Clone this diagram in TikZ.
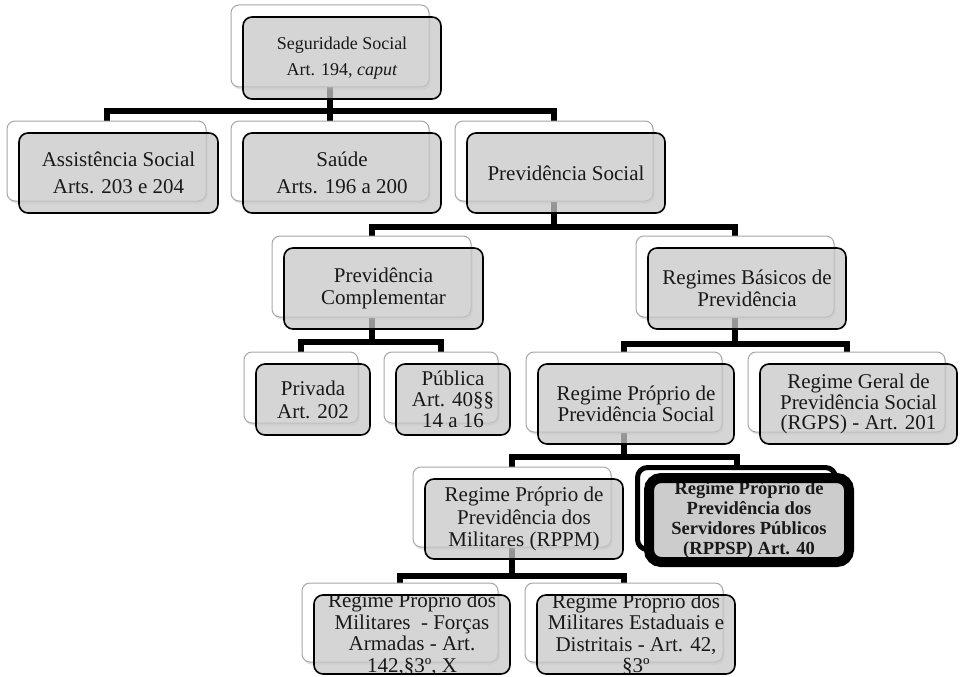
\documentclass[tikz,border=0pt]{standalone}
\usepackage{fontspec}
\setmainfont{Liberation Serif}
\usetikzlibrary{shadows,backgrounds,calc}
\tikzset{
  backbox/.style={draw=black!35, fill=white, line width=1pt, rounded corners=8pt, inner sep=0pt,
    drop shadow={shadow xshift=1.5pt, shadow yshift=-2.5pt, opacity=0.22}},
  frontbox/.style={draw=black, fill=black!22, fill opacity=0.75, line width=1.6pt, rounded corners=9pt, inner sep=0pt},
  boxtext/.style={align=center, text=black!90, text opacity=1, fill opacity=1, inner sep=0pt},
  conn/.style={line width=6pt, black},
  bigback/.style={draw=black, line width=5pt, fill=white, rounded corners=10pt, inner sep=0pt},
  bigfront/.style={draw=black, line width=10pt, fill=black!20, rounded corners=12pt, inner sep=0pt}
}
\newcommand{\boxpair}[7]{%
  \node[backbox, minimum width=#4pt, minimum height=#5pt] (#1) at (#2,#3) {};
  \node[frontbox, minimum width=#4pt, minimum height=#5pt,
    path picture={\node[boxtext, font=#6] at (path picture bounding box.center) {#7};}]
    (#1f) at ([shift={(12,12)}]#1.center) {};
}
\begin{document}
\begin{tikzpicture}[x=1pt,y=-1pt]
\useasboundingbox (0,0) rectangle (964,677);
\boxpair{ss}{330}{46}{198}{82}{\fontsize{18}{26}\selectfont}{Seguridade Social\\Art. 194, \textit{caput}}
\boxpair{as}{106.5}{161}{199}{80}{\fontsize{21}{27}\selectfont}{Assistência Social\\Arts. 203 e 204}
\boxpair{sa}{330}{161}{198}{80}{\fontsize{21}{27}\selectfont}{Saúde\\Arts. 196 a 200}
\boxpair{ps}{554}{161}{198}{80}{\fontsize{21}{27}\selectfont}{Previdência Social}
\boxpair{pc}{371.5}{276.5}{199}{81}{\fontsize{21}{22}\selectfont}{Previdência\\Complementar}
\boxpair{rb}{735}{276.5}{198}{81}{\fontsize{21}{22}\selectfont}{Regimes Básicos de\\Previdência}
\boxpair{pv}{301}{387.5}{114}{71}{\fontsize{21}{23}\selectfont}{Privada\\Art. 202}
\boxpair{pu}{441}{387.5}{114}{71}{\fontsize{21}{21}\selectfont}{Pública\\Art. 40§§\\14 a 16}
\boxpair{rp}{624}{392}{196}{80}{\fontsize{21}{20.5}\selectfont}{Regime Próprio de\\Previdência Social}
\boxpair{rg}{846.5}{392}{197}{80}{\fontsize{21}{20.5}\selectfont}{Regime Geral de\\Previdência Social\\(RGPS) - Art. 201}
\boxpair{rm}{512}{507}{198}{80}{\fontsize{21}{22.5}\selectfont}{Regime Próprio de\\Previdência dos\\Militares (RPPM)}
\node[bigback, minimum width=198pt, minimum height=82pt] (rs) at (736.5,508.5) {};
\node[bigfront, minimum width=200pt, minimum height=84pt,
  path picture={\node[boxtext, font=\fontsize{18.5}{20}\selectfont\bfseries] at (path picture bounding box.center) {Regime Próprio de\\Previdência dos\\Servidores Públicos\\(RPPSP) Art. 40};}]
  (rsf) at (749,520) {};
\boxpair{fa}{400}{622.5}{196}{79}{\fontsize{21}{21.5}\selectfont}{Regime Próprio dos\\Militares\ \ - Forças\\Armadas - Art.\\142,§3º, X}
\boxpair{me}{624}{622.5}{198}{79}{\fontsize{21}{21.5}\selectfont}{Regime Próprio dos\\Militares Estaduais e\\Distritais - Art. 42,\\§3º}
\begin{scope}[on background layer]
\draw[conn] (ss.south) -- ++(0,23) -| (as.north);
\draw[conn] (ss.south) -- ++(0,23) -| (sa.north);
\draw[conn] (ss.south) -- ++(0,23) -| (ps.north);
\draw[conn] (ps.south) -- ++(0,25) -| (pc.north);
\draw[conn] (ps.south) -- ++(0,25) -| (rb.north);
\draw[conn] (pc.south) -- ++(0,24) -| (pv.north);
\draw[conn] (pc.south) -- ++(0,24) -| (pu.north);
\draw[conn] (rb.south) -- ++(0,26) -| (rp.north);
\draw[conn] (rb.south) -- ++(0,26) -| (rg.north);
\draw[conn] (rp.south) -- ++(0,24) -| (rm.north);
\draw[conn] (rp.south) -- ++(0,24) -| (rs.north);
\draw[conn] (rm.south) -- ++(0,28) -| (fa.north);
\draw[conn] (rm.south) -- ++(0,28) -| (me.north);
\end{scope}
\end{tikzpicture}
\end{document}
